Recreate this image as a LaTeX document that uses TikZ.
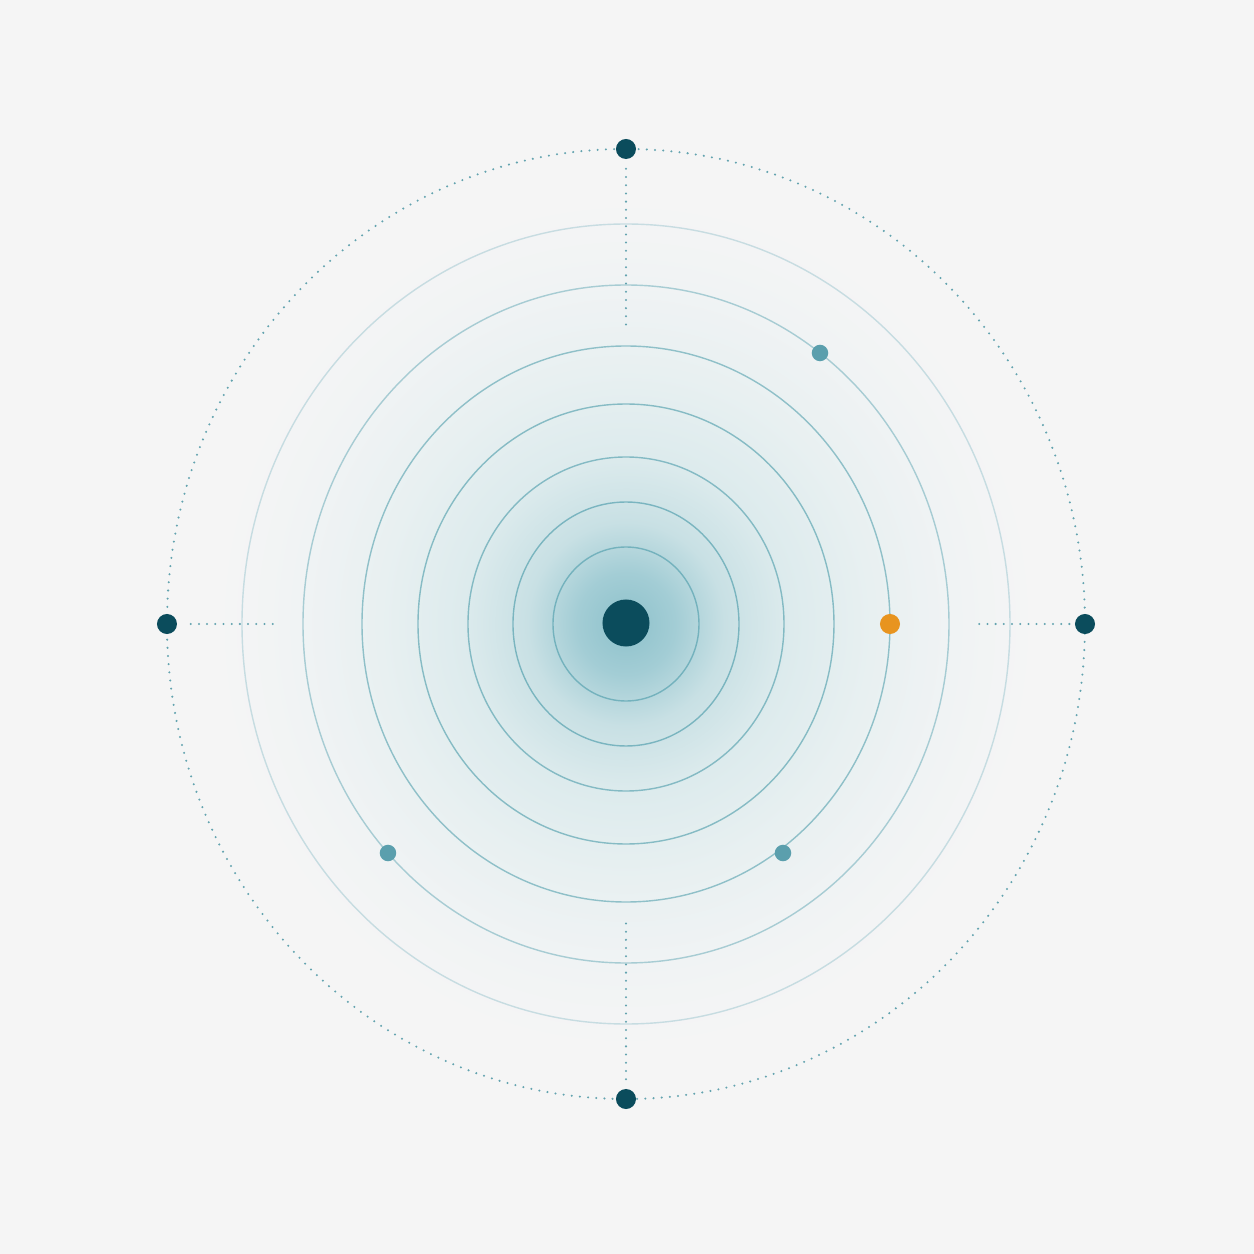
\documentclass[tikz,border=0pt]{standalone}
\usepackage{tikz}
\usetikzlibrary{positioning}
\definecolor{bgc}{HTML}{F5F5F5}
\definecolor{deepteal}{HTML}{0B4C5C}
\definecolor{ringteal}{HTML}{5FA6B3}
\definecolor{dotteal}{HTML}{4A95A3}
\definecolor{softteal}{HTML}{5B9FAD}
\definecolor{amber}{HTML}{E8941F}
\definecolor{glowA}{HTML}{8DC1CB}
\definecolor{glowB}{HTML}{A3CDD5}
\definecolor{glowC}{HTML}{C8E0E4}
\definecolor{glowD}{HTML}{DDEBED}
\definecolor{glowE}{HTML}{E8F0F1}
\definecolor{glowF}{HTML}{F0F3F4}
\pgfdeclareradialshading{glow}{\pgfpoint{0bp}{0bp}}{color(0bp)=(glowA); color(3bp)=(glowB); color(6bp)=(glowC); color(10bp)=(glowD); color(15bp)=(glowE); color(20bp)=(glowF); color(25bp)=(bgc); color(50bp)=(bgc)}
\tikzstyle{hub} = [circle, fill=deepteal, minimum size=0.47cm, inner sep=0pt]
\tikzstyle{port} = [circle, fill=deepteal, minimum size=0.2cm, inner sep=0pt]
\tikzstyle{marker} = [circle, fill=softteal, minimum size=0.165cm, inner sep=0pt]
\tikzstyle{spoke} = [dotteal, line width=0.65pt, line cap=round, dash pattern=on 0pt off 2.33pt, opacity=0.85]
\tikzstyle{ring} = [ringteal, line width=0.4pt]
\begin{document}
\begin{tikzpicture}[x=0.01cm, y=0.01cm]
			\useasboundingbox (-626,-630) rectangle (628,624);
			\fill[bgc] (-626,-630) rectangle (628,624);
			\shade[shading=glow] (0,0) circle[x radius=410, y radius=425];
			
			%rings
			\foreach \rx/\ry/\op in {73/77/0.75, 113/122/0.75, 158/167/0.7, 208/220/0.7, 264/278/0.65, 323/339/0.5, 384/400/0.3}
				\draw[ring, opacity=\op] (0,0) circle[x radius=\rx, y radius=\ry];
			\draw[spoke] (0,0) circle[x radius=459, y radius=475];
			
			%nodes
			\node (hub) [hub] at (0,1) {};
			\node (north) [port] at (0,475) {};
			\node (south) [port] at (0,-475) {};
			\node (west) [port] at (-459,0) {};
			\node (east) [port] at (459,0) {};
			\node (flag) [circle, fill=amber, minimum size=0.2cm, inner sep=0pt] at (264,0) {};
			\node (ne) [marker] at (194,271) {};
			\node (sw) [marker] at (-238,-229) {};
			\node (se) [marker] at (157,-229) {};
			\coordinate (northin) at (0,298);
			\coordinate (southin) at (0,-298);
			\coordinate (westin) at (-351,0);
			\coordinate (eastin) at (353,0);
			
			%spokes
			\draw [spoke, shorten <=2.6pt] (north) -- (northin);
			\draw [spoke, shorten <=2.6pt] (south) -- (southin);
			\draw [spoke, shorten <=3.7pt] (west) -- (westin);
			\draw [spoke, shorten <=1.4pt] (east) -- (eastin);
			
		\end{tikzpicture}
\end{document}
